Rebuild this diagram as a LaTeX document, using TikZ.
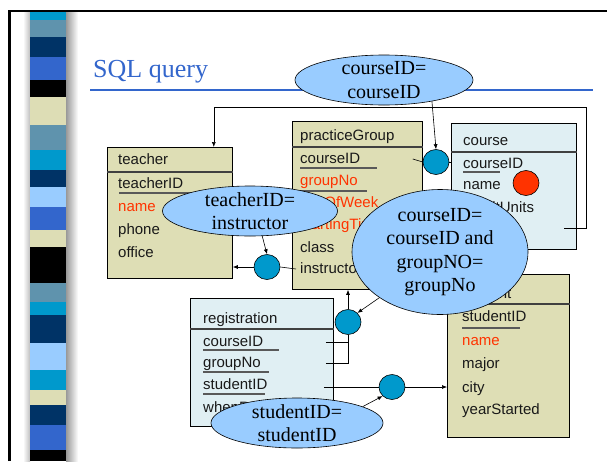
\documentclass[tikz,border=0pt]{standalone}
\usepackage{fontspec}
\setmainfont{Liberation Serif}
\setsansfont{Liberation Sans}
\usetikzlibrary{shapes.geometric,arrows.meta,calc}

\definecolor{boxtan}{HTML}{DEDEB5}
\definecolor{boxice}{HTML}{E0EFF3}
\definecolor{condblue}{HTML}{99CCFF}
\definecolor{jnblue}{HTML}{0099CC}
\definecolor{keyred}{HTML}{FF3300}
\definecolor{titleblue}{HTML}{3366CC}
\definecolor{scyan}{HTML}{0099CC}
\definecolor{ssteel}{HTML}{5F93AD}
\definecolor{snavy}{HTML}{003366}
\definecolor{sroyal}{HTML}{3366CC}
\definecolor{sbeige}{HTML}{DDDDB5}
\definecolor{slight}{HTML}{99CCFF}

\begin{document}
\begin{tikzpicture}[x=1pt, y=-1pt,
    tbl/.style={draw=black, line width=0.8pt, anchor=north west, inner sep=0pt},
    hdr/.style={draw=black!75, line width=1.2pt},
    fld/.style={font=\sffamily\fontsize{15}{18}\selectfont, text=black!90, anchor=west,
                inner sep=0pt, text height=11pt, text depth=3pt},
    key/.style={fld, text=keyred},
    uline/.style={draw=black!65, line width=1.2pt},
    link/.style={draw=black, line width=0.6pt},
    arr/.style={link, -{Latex[length=5pt,width=4pt]}},
    jn/.style={ellipse, draw=black, line width=0.6pt, fill=jnblue,
               minimum width=26pt, minimum height=25pt, inner sep=0pt},
    cond/.style={ellipse, draw=black, line width=0.6pt, fill=condblue, inner sep=0pt},
    condtext/.style={font=\fontsize{20}{23.5}\selectfont, align=center, inner sep=0pt}]
  \useasboundingbox (0,0) rectangle (607,461);

  % slide frame and striped bar
  \draw[line width=2.5pt] (9.5,461) -- (9.5,11) -- (607,11);
  \shade[left color=white, right color=black!25] (23,12) rectangle (30,461);
  \shade[left color=black!40, right color=white] (66,12) rectangle (78,461);
  \foreach \ya/\yb/\c in {12/20/scyan, 20/37/ssteel, 37/57/snavy, 57/80/sroyal,
      80/97/black, 97/125/sbeige, 125/150/ssteel, 150/170/scyan, 170/187/snavy,
      187/207/slight, 207/230/sroyal, 230/247/sbeige, 247/283/black,
      283/302/ssteel, 302/315/scyan, 315/343/snavy, 343/370/slight,
      370/390/scyan, 390/405/sbeige, 405/425/snavy, 425/450/sroyal, 450/461/black}
    \fill[\c] (30,\ya) rectangle (66,\yb);

  % title
  \node[anchor=base west, inner sep=0pt, text=titleblue, font=\fontsize{26}{30}\selectfont]
    (title) at (93,77) {SQL query};
  \draw[titleblue, line width=2pt] (90,90) -- (593,90);

  % teacher
  \node[tbl, fill=boxtan, minimum width=125pt, minimum height=131pt] (tch) at (107,147) {};
  \draw[hdr] ([yshift=-25pt]tch.north west) -- ([yshift=-25pt]tch.north east);
  \node[fld] (tchh) at (118,160) {teacher};
  \node[fld] (tchid) at (118,184) {teacherID};
  \node[key] (tchname) at (118,207) {name};
  \node[fld] (tchph) at (118,230) {phone};
  \node[fld] (tchoff) at (118,253) {office};
  \draw[uline] (119,193) -- (200,193);

  % practiceGroup
  \node[tbl, fill=boxtan, minimum width=130pt, minimum height=168pt] (pg) at (292,121) {};
  \draw[hdr] ([yshift=-26pt]pg.north west) -- ([yshift=-26pt]pg.north east);
  \node[fld] (pgh) at (300,136) {practiceGroup};
  \node[fld] (pgcid) at (300,159) {courseID};
  \node[key] (pggrp) at (300,181) {groupNo};
  \node[key] (pgday) at (300,203) {dayOfWeek};
  \node[key] (pgtime) at (300,225) {startingTime};
  \node[fld] (pgcls) at (300,248) {class};
  \node[fld] (pginst) at (300,269) {instructor};
  \draw[uline] (300,168) -- (377,168);
  \draw[uline] (300,191) -- (367,191);

  % course
  \node[tbl, fill=boxice, minimum width=125pt, minimum height=126pt] (crs) at (451,123) {};
  \draw[hdr] ([yshift=-29pt]crs.north west) -- ([yshift=-29pt]crs.north east);
  \node[fld] (crsh) at (463,141) {course};
  \node[fld] (crscid) at (463,164) {courseID};
  \node[fld] (crsname) at (463,185) {name};
  \node[fld] (crscu) at (463,208) {creditUnits};
  \draw[uline] (463,172) -- (500,172);
  \node[jn, fill=keyred] (rdot) at (526,183) {};

  % registration
  \node[tbl, fill=boxice, minimum width=143pt, minimum height=128pt] (reg) at (190,298) {};
  \draw[hdr] ([yshift=-31pt]reg.north west) -- ([yshift=-31pt]reg.north east);
  \node[fld] (regh) at (203,319) {registration};
  \node[fld] (regcid) at (203,342) {courseID};
  \node[fld] (reggrp) at (203,363) {groupNo};
  \node[fld] (regsid) at (203,385) {studentID};
  \node[fld] (regwhen) at (203,408) {whenRegistered};
  \draw[uline] (203,350) -- (279,350);
  \draw[uline] (203,372) -- (269,372);
  \draw[uline] (203,394) -- (265,394);

  % student
  \node[tbl, fill=boxtan, minimum width=122pt, minimum height=163pt] (stu) at (447,274) {};
  \draw[hdr] ([yshift=-30pt]stu.north west) -- ([yshift=-30pt]stu.north east);
  \node[fld] (stuh) at (462,294) {student};
  \node[fld] (stusid) at (462,317) {studentID};
  \node[key] (stuname) at (462,341) {name};
  \node[fld] (stumaj) at (462,364) {major};
  \node[fld] (stucity) at (462,388) {city};
  \node[fld] (stuyear) at (462,410) {yearStarted};
  \draw[uline] (462,328) -- (520,328);

  % join points
  \node[jn] (j1) at (436,162) {};
  \node[jn] (j2) at (267,267) {};
  \node[jn] (j3) at (348,322) {};
  \node[jn] (j4) at (392,387) {};

  % links between the tables
  \coordinate (cteach) at (564,228);
  \coordinate (ctop) at (586,107);
  \draw[arr] (cteach) -| (ctop) -| ([xshift=-19pt]tch.north east);
  \draw[link] ([xshift=-10pt]pg.east |- pgcid) -- (j1.west);
  \draw[link] (j1.east) -- (j1 -| crs.west);
  \draw[link] ([xshift=-4pt]pginst.west) -- (j2.east);
  \draw[arr] (j2.west) -- (j2 -| tch.east);
  \draw[link] ([xshift=-8pt]reg.east |- regcid) -| (j3.south);
  \draw[link] ([xshift=-8pt]reg.east |- reggrp) -| (j3.south);
  \draw[arr] (j3.north) -- (j3 |- pg.south);
  \draw[link] ([xshift=-10pt]reg.east |- j4) -- (j4.west);
  \draw[arr] (j4.east) -- (j4 -| stu.west);

  % join conditions
  \node[cond, minimum width=178pt, minimum height=50pt,
        label={[condtext]center:{courseID=\\courseID}}] (e1) at (384,80) {};
  \node[cond, minimum width=175pt, minimum height=50pt,
        label={[condtext]center:{teacherID=\\instructor}}] (e2) at (250,211) {};
  \node[cond, minimum width=176pt, minimum height=125pt,
        label={[condtext]center:{courseID=\\courseID and\\groupNO=\\groupNo}}] (e3) at (440,252) {};
  \node[cond, minimum width=172pt, minimum height=50pt,
        label={[condtext]center:{studentID=\\studentID}}] (e4) at (297,423) {};
  \draw[arr] (e1.-24) -- (j1.north);
  \draw[arr] (e2.-64) -- (j2.north);
  \draw[arr] (e3.217) -- (j3.north east);
  \draw[arr] (e4.14) -- (j4.south west);
\end{tikzpicture}
\end{document}
